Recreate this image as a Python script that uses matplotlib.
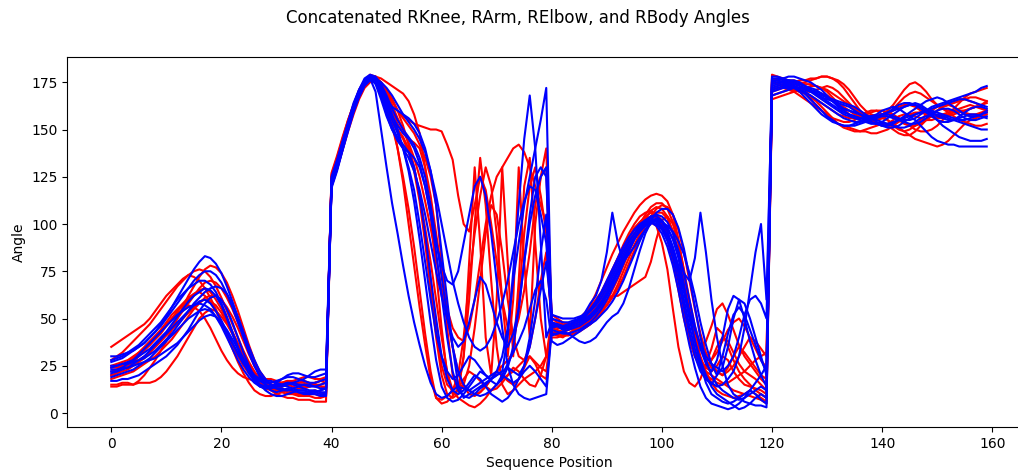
import numpy as np
from matplotlib import pyplot as plt

# each curve = knee (0-39) + arm (40-79) + elbow (80-119) + body (120-159)
red_knee = [
    [35,37,39,41,43,45,47,50,54,58,62,65,68,71,73,72,70,66,61,55,48,41,34,27,21,16,12,10,9,9,10,11,12,11,10,10,11,12,11,10],
    [15,15,16,16,15,17,20,24,28,33,38,44,50,56,62,67,72,76,78,77,74,69,62,54,45,36,28,21,16,12,10,9,8,8,7,7,7,6,6,6],
    [20,21,22,23,25,27,29,32,35,38,41,44,47,50,53,56,59,60,59,57,53,48,42,36,30,24,19,15,13,12,13,14,15,14,13,13,14,15,14,13],
    [25,26,27,28,30,32,34,36,39,42,46,50,54,57,60,63,65,66,64,60,55,49,43,37,31,26,21,18,16,15,14,15,16,16,15,14,15,16,17,16],
    [14,14,15,15,15,16,16,16,17,19,22,26,30,35,40,45,50,53,55,54,51,47,42,36,30,25,21,18,16,15,15,16,17,17,16,16,15,16,17,18],
    [28,30,32,35,38,41,44,47,51,55,59,63,67,70,73,75,76,75,72,67,61,54,47,40,33,27,22,18,15,13,12,12,11,10,10,9,9,8,8,9],
    [18,19,20,21,22,24,26,28,30,33,36,39,43,47,51,55,58,61,62,62,60,56,51,45,38,31,25,20,17,15,14,14,15,16,16,17,16,15,15,16],
    [22,23,25,27,29,32,35,38,41,44,47,50,53,55,57,56,54,50,45,39,33,28,24,21,19,18,17,17,18,18,17,16,16,17,18,19,19,18,18,19],
    [24,24,25,26,27,28,30,32,35,38,42,46,50,54,58,62,66,69,70,69,66,61,55,48,41,34,27,22,18,14,12,11,10,10,9,9,10,10,9,9],
    [20,21,23,25,27,30,33,36,40,44,48,52,55,58,61,63,64,62,59,54,48,42,36,30,25,21,18,16,14,14,15,16,17,16,15,14,14,15,14,14],
]
red_arm = [
    [123,132,142,152,161,169,175,178,177,172,165,155,140,122,100,78,56,36,18,8,7,9,12,15,14,12,10,11,14,18,22,20,17,15,18,24,30,26,20,18],
    [121,130,140,150,160,168,174,177,178,177,175,173,171,169,165,158,148,130,105,75,45,20,10,12,30,60,100,135,110,70,35,15,10,12,15,18,20,22,25,30],
    [126,135,145,155,163,170,175,177,176,170,162,155,150,146,140,130,115,95,70,45,25,15,12,20,40,70,95,115,130,120,95,60,30,60,130,80,40,100,125,130],
    [124,133,143,153,162,170,176,178,177,174,170,165,160,157,155,153,152,151,150,150,149,142,134,115,100,96,110,125,118,100,80,60,45,40,50,65,85,110,125,140],
    [122,131,141,151,160,167,173,176,175,170,162,152,140,125,108,88,65,42,22,8,5,6,9,13,18,22,20,17,14,12,13,16,20,24,22,18,15,14,20,30],
    [125,134,144,154,163,171,176,178,178,174,168,160,153,148,145,143,140,130,115,95,75,55,45,40,38,45,60,80,100,115,125,130,135,140,142,138,130,120,110,100],
    [120,129,139,149,158,166,172,175,176,174,171,166,160,152,142,130,115,98,80,60,40,22,12,8,6,4,3,5,8,12,15,18,20,22,25,28,30,27,24,22],
    [123,132,142,152,161,169,175,177,177,175,171,166,160,156,152,148,142,135,125,110,80,45,20,12,30,80,130,90,40,20,60,130,80,30,70,120,135,90,50,30],
    [127,136,146,155,163,170,175,178,177,173,165,157,150,145,138,128,112,90,65,40,20,10,8,10,15,25,45,70,95,110,105,85,60,40,30,28,35,50,70,85],
    [124,133,143,153,162,170,176,179,178,175,170,163,156,150,143,135,125,112,98,82,66,50,35,22,14,10,9,11,14,18,22,25,28,32,60,95,120,130,115,95],
]
red_elbow = [
    [45,44,43,44,46,48,52,57,63,70,77,84,90,96,101,106,110,113,115,116,115,112,105,92,75,55,38,28,24,22,25,30,28,22,18,15,14,13,12,10],
    [50,48,47,46,47,49,51,54,58,63,68,74,80,86,92,97,101,104,106,105,102,96,86,72,56,42,32,26,24,28,35,40,38,32,26,22,20,18,15,12],
    [42,41,40,42,44,46,48,50,53,57,62,68,75,82,88,93,97,100,101,99,90,76,55,35,22,16,14,18,26,34,45,42,35,28,22,18,15,12,10,8],
    [48,47,46,45,44,44,45,47,50,54,59,65,71,78,85,92,98,103,107,109,108,104,96,84,68,52,40,34,38,46,55,58,52,44,36,30,26,22,18,15],
    [44,43,43,44,45,47,49,52,56,60,65,70,76,82,88,94,100,105,109,111,111,108,101,90,74,57,42,30,22,16,12,10,9,8,9,10,12,10,8,6],
    [52,50,48,47,46,46,47,49,52,56,60,62,62,64,66,68,70,72,80,92,102,104,100,90,76,60,46,36,28,24,22,20,22,25,30,35,40,38,34,30],
    [46,45,45,46,47,48,50,53,57,62,68,75,82,89,95,100,104,106,107,105,100,92,80,65,50,38,30,25,22,20,18,16,14,12,11,10,9,8,7,5],
    [40,40,41,42,43,45,47,49,51,54,57,61,66,72,79,86,93,99,104,108,110,109,105,97,85,70,55,42,32,26,22,20,24,30,35,32,28,24,20,18],
    [47,46,46,47,48,50,53,56,60,64,70,76,82,88,93,98,101,103,104,103,100,94,84,70,54,40,30,24,20,18,16,15,16,18,20,22,25,28,30,32],
    [43,42,41,41,42,43,45,47,50,53,57,62,68,75,82,89,95,100,104,106,106,103,96,85,70,54,42,34,30,28,32,38,44,48,50,46,40,34,28,24],
]
red_body = [
    [176,177,177,176,176,175,174,174,173,172,171,169,167,165,163,161,159,158,157,157,158,160,163,167,171,174,175,173,170,166,163,161,160,160,161,162,163,162,161,160],
    [172,173,174,175,175,176,176,177,177,178,178,177,175,172,168,164,160,157,155,153,152,153,155,157,158,158,157,156,155,155,156,157,158,159,160,160,161,162,163,164],
    [168,169,170,171,171,170,169,167,165,162,159,156,153,151,150,149,149,150,151,152,153,152,150,148,147,147,149,152,155,158,160,162,163,162,160,158,157,157,158,159],
    [179,178,177,175,173,172,171,170,170,169,168,166,164,162,160,158,157,156,156,157,158,159,158,156,154,152,150,149,149,150,152,155,158,161,164,167,169,170,171,172],
    [170,171,172,173,172,171,170,170,171,172,173,172,170,167,164,161,158,156,155,155,156,158,161,164,167,169,170,169,167,165,163,161,159,157,155,154,153,152,152,153],
    [174,175,175,174,173,171,169,166,163,160,157,155,153,152,151,150,149,149,148,148,149,150,152,154,156,158,159,159,158,157,156,156,157,158,159,160,161,162,163,165],
    [166,167,168,169,170,171,172,173,173,172,170,167,164,161,158,156,155,154,154,155,156,155,153,151,149,147,145,144,143,142,141,142,144,147,150,153,155,156,157,158],
    [177,176,175,174,174,174,175,176,177,178,178,177,176,174,171,167,163,160,158,157,157,158,160,162,163,163,162,160,158,157,157,158,159,160,160,159,158,158,159,160],
    [171,172,172,171,170,168,166,164,162,160,158,156,155,154,154,155,157,159,160,160,158,155,152,150,149,150,152,155,158,160,162,163,164,165,166,166,165,164,162,160],
    [175,174,173,172,171,170,169,168,166,164,162,160,158,157,156,156,157,158,159,160,160,159,157,155,153,152,152,153,155,157,160,162,163,164,165,166,167,167,166,165],
]

blue_knee = [
    [30,30,31,32,33,35,37,40,43,47,51,56,61,66,71,76,80,83,82,79,74,67,59,50,41,32,25,19,15,12,11,12,13,12,11,10,10,11,12,13],
    [17,17,18,18,19,20,22,24,26,28,30,33,36,40,44,49,54,58,61,62,60,55,48,40,32,25,19,15,12,10,9,9,10,11,12,12,11,11,12,13],
    [24,25,26,27,28,30,32,34,37,40,43,47,51,55,59,62,64,66,65,62,57,50,42,34,27,21,17,14,13,14,16,18,19,19,18,17,16,16,17,18],
    [22,22,23,24,26,28,30,33,36,39,42,45,48,51,54,57,59,60,58,54,49,43,37,31,26,22,19,17,16,16,17,18,20,21,21,20,19,19,20,21],
    [27,28,29,31,33,35,37,40,43,46,50,54,58,62,66,70,73,75,75,73,69,63,56,48,40,32,25,20,17,15,14,14,15,16,17,18,20,22,23,23],
    [19,20,21,22,23,25,27,29,32,35,38,41,44,47,50,52,54,55,54,51,47,42,37,32,27,23,20,18,17,17,16,15,14,13,12,12,11,11,10,10],
    [25,25,26,26,27,28,29,31,33,36,39,42,46,50,54,58,61,64,66,67,66,63,58,51,43,35,28,22,18,15,13,12,12,13,14,15,15,14,13,13],
    [21,22,24,26,28,31,34,37,40,43,46,49,52,54,56,57,58,57,55,51,46,40,34,28,23,19,16,14,13,13,14,15,16,15,14,13,12,12,11,11],
    [28,29,30,32,34,36,39,42,45,48,52,56,60,63,66,68,70,70,68,64,58,51,43,35,28,22,18,15,14,14,15,15,16,16,15,15,14,14,15,16],
    [23,23,24,24,25,26,27,28,29,31,33,35,37,40,43,46,49,51,52,51,48,44,39,34,29,24,20,17,15,14,13,13,12,12,11,11,10,10,9,9],
]
blue_arm = [
    [119,128,139,150,160,168,174,177,170,150,130,111,95,78,62,48,36,25,16,10,8,9,12,14,13,12,14,16,18,20,22,20,18,16,18,22,25,22,18,14],
    [121,130,140,151,161,169,175,178,177,172,166,162,160,158,156,153,148,140,128,110,85,60,35,15,8,10,12,14,16,18,20,22,40,75,110,145,168,140,90,40],
    [122,131,141,152,162,170,176,178,176,170,162,155,148,140,130,118,100,80,60,42,30,22,18,20,25,30,28,24,20,18,22,30,45,70,90,110,125,140,155,172],
    [120,129,140,151,161,169,175,177,175,168,160,152,145,140,135,128,118,105,90,75,62,50,40,35,38,48,60,72,68,58,48,40,35,42,55,80,105,125,130,125],
    [123,132,142,152,162,170,176,178,177,173,166,158,150,140,128,112,92,70,48,28,14,8,6,7,10,14,18,22,20,17,15,18,24,35,55,80,100,115,125,130],
    [121,130,141,151,161,169,175,178,176,171,164,157,152,148,145,140,132,120,105,90,78,70,68,75,90,105,120,125,115,95,70,45,25,15,10,8,7,8,9,10],
    [124,133,143,153,163,171,177,179,178,174,168,161,155,150,146,142,135,125,110,92,72,52,35,22,15,12,10,9,10,12,15,20,26,32,38,45,55,65,70,60],
    [120,129,139,149,159,167,173,176,175,168,158,150,144,140,138,135,130,120,105,85,62,40,22,12,9,8,10,13,15,18,20,22,24,22,20,25,35,50,65,80],
    [125,134,144,154,164,171,176,178,177,175,172,168,163,158,154,150,145,138,128,115,100,85,70,58,48,40,35,33,35,40,48,58,70,85,100,112,120,118,105,90],
    [122,131,142,152,162,170,175,177,174,166,157,150,146,142,138,130,115,95,72,50,30,18,12,10,12,16,20,18,14,10,8,6,8,12,18,25,40,60,85,105],
]
blue_elbow = [
    [45,46,44,45,48,50,53,58,62,70,85,106,90,80,84,88,93,97,100,102,101,98,92,82,68,52,38,26,16,10,8,6,5,6,8,10,12,10,7,5],
    [48,47,46,47,48,49,51,54,58,63,68,74,80,86,91,95,99,102,104,104,102,98,92,84,74,70,82,106,85,60,40,25,15,10,8,6,5,4,4,3],
    [42,42,43,44,45,46,48,50,53,57,62,68,74,80,86,92,97,100,101,100,97,91,82,70,56,42,30,22,18,16,14,15,18,22,30,45,65,85,100,60],
    [50,49,48,48,49,50,52,55,59,64,70,76,82,88,93,97,100,102,103,102,99,94,86,76,64,50,38,28,20,14,10,8,6,4,2,3,5,8,10,8],
    [46,46,45,45,46,47,49,51,54,58,63,69,75,81,87,92,96,99,101,102,101,99,96,91,84,74,62,48,36,26,20,24,35,50,60,58,50,40,30,20],
    [44,43,42,42,43,44,46,48,51,55,60,66,72,79,86,92,97,101,104,105,104,101,95,86,74,60,46,34,26,22,28,40,55,62,60,50,38,28,20,14],
    [38,36,37,39,41,43,45,47,49,52,55,59,64,70,77,84,91,97,102,106,108,108,105,98,87,72,56,40,28,20,15,12,10,8,7,8,10,12,14,12],
    [52,51,50,50,50,51,52,54,57,61,66,72,78,84,90,95,99,101,102,101,98,93,85,74,60,46,34,24,18,15,20,30,42,52,56,52,44,36,28,22],
    [47,47,46,46,47,48,50,52,55,59,64,70,76,82,88,93,97,100,101,99,95,88,78,65,50,36,24,14,8,5,4,3,2,3,5,8,12,16,20,25],
    [41,42,43,42,40,38,37,38,40,44,48,51,53,58,66,76,86,95,101,103,101,96,88,78,66,54,44,36,30,26,24,22,25,30,40,52,60,62,58,50],
]
blue_body = [
    [175,176,177,178,178,177,176,175,173,171,168,165,162,160,158,157,156,156,157,158,160,161,162,161,159,157,155,152,149,146,144,143,142,142,141,141,141,141,141,141],
    [170,171,172,172,172,171,170,168,166,164,162,160,158,156,155,154,154,155,156,157,158,158,157,156,155,155,156,158,160,162,163,164,165,166,167,168,169,170,172,173],
    [174,175,175,175,174,173,172,170,168,166,164,162,160,158,157,156,155,154,153,153,154,156,158,160,162,163,164,163,161,159,157,156,155,155,156,157,158,158,157,156],
    [172,173,174,174,173,171,169,166,163,160,157,155,153,152,152,153,154,155,156,157,158,159,160,161,162,163,163,162,160,158,155,152,150,148,146,145,144,144,144,145],
    [177,177,176,176,175,174,173,171,169,167,165,163,161,159,158,157,156,155,154,153,152,152,153,155,157,159,161,163,165,166,167,166,164,162,160,158,157,157,158,160],
    [168,169,170,171,172,172,172,171,170,169,167,165,163,161,160,159,158,157,156,155,154,153,152,151,151,152,154,156,157,158,158,157,156,155,154,153,152,151,150,150],
    [176,176,175,174,173,172,171,170,169,168,167,166,165,164,163,162,160,158,156,154,153,153,154,155,156,157,158,159,160,161,162,163,164,165,166,166,165,164,163,162],
    [173,174,175,176,176,175,173,171,169,167,166,165,164,163,162,160,158,156,154,153,152,151,151,152,154,156,158,159,160,160,159,158,157,156,155,155,156,157,158,159],
    [171,172,173,173,172,170,167,164,161,158,156,154,153,152,152,152,153,154,155,156,157,157,156,155,154,153,153,154,156,158,160,161,161,160,158,156,155,155,156,157],
    [178,178,177,176,175,174,173,172,171,169,167,165,163,161,160,159,158,157,157,157,158,159,161,163,164,164,163,161,159,157,155,154,154,155,157,159,161,162,162,161],
]


def concat(knee, arm, elbow, body):
    out = []
    for a, b, c, d in zip(knee, arm, elbow, body):
        assert len(a) == len(b) == len(c) == len(d) == 40, (len(a), len(b), len(c), len(d))
        out.append(a + b + c + d)
    return out


red = concat(red_knee, red_arm, red_elbow, red_body)
blue = concat(blue_knee, blue_arm, blue_elbow, blue_body)

fig = plt.figure(figsize=(10.18, 4.72), dpi=100)
ax = fig.add_axes([0.0663, 0.0953, 0.946, 0.7833])
for y in red:
    ax.plot(np.arange(len(y)), y, color='red')
for y in blue:
    ax.plot(np.arange(len(y)), y, color='blue')
ax.set_xlim(-7.95, 166.95)
ax.set_ylim(-7.4, 188.2)
ax.set_xlabel('Sequence Position')
ax.set_ylabel('Angle')
fig.suptitle('Concatenated RKnee, RArm, RElbow, and RBody Angles', x=0.509)
fig.savefig('out.png')
